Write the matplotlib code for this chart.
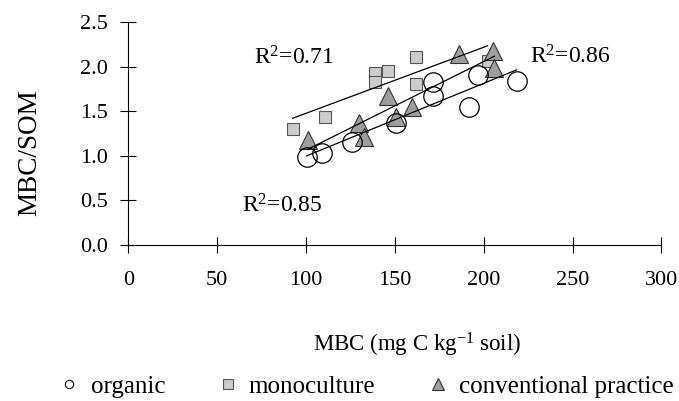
import matplotlib
matplotlib.use('Agg')
import matplotlib.pyplot as plt
from matplotlib.lines import Line2D
import numpy as np

plt.rcParams['font.family'] = ['Liberation Serif', 'DejaVu Serif']
plt.rcParams['mathtext.fontset'] = 'custom'
plt.rcParams['mathtext.rm'] = 'Liberation Serif'
plt.rcParams['mathtext.it'] = 'Liberation Serif:italic'

# values
organic_x = [100.3, 108.8, 125.9, 150.6, 171.6, 171.6, 191.5, 196.6, 218.5]
organic_y = [0.99, 1.03, 1.15, 1.37, 1.83, 1.67, 1.55, 1.91, 1.84]

mono_x = [92.5, 110.7, 139.0, 139.0, 145.9, 161.9, 161.9, 202.2]
mono_y = [1.30, 1.44, 1.93, 1.83, 1.95, 2.11, 1.81, 2.06]

conv_x = [100.9, 130.0, 132.8, 145.9, 150.6, 159.6, 185.9, 205.0, 206.0]
conv_y = [1.175, 1.37, 1.21, 1.67, 1.44, 1.55, 2.14, 2.17, 1.98]

r2_labels = ['0.85', '0.71', '0.86']   # organic, monoculture, conventional

x_ticks = [0, 50, 100, 150, 200, 250, 300]
y_ticks = [0.0, 0.5, 1.0, 1.5, 2.0, 2.5]


def fit_line(ax, xs, ys):
    xs = np.array(xs)
    ys = np.array(ys)
    k, b = np.polyfit(xs, ys, 1)
    xx = np.array([xs.min(), xs.max()])
    ax.plot(xx, k * xx + b, color='black', lw=0.9, zorder=4)


fig = plt.figure(figsize=(6.79, 4.01), dpi=100)
ax = fig.add_axes([0.189, 0.389, 0.785, 0.556])

ax.plot(mono_x, mono_y, 's', ms=8, mfc='#cccccc', mec='#555555', mew=0.8,
        ls='none', zorder=2)
ax.plot(conv_x, conv_y, '^', ms=12.5, mfc='#9e9e9e', mec='#333333', mew=0.8,
        ls='none', zorder=3)
ax.plot(organic_x, organic_y, 'o', ms=14, mfc='none', mec='black', mew=0.9,
        ls='none', zorder=5)

fit_line(ax, organic_x, organic_y)
fit_line(ax, mono_x, mono_y)
fit_line(ax, conv_x, conv_y)

r2 = r'R$^{\mathregular{2}}$='
ax.text(64, 0.37, r2 + r2_labels[0], fontsize=17, ha='left', va='baseline')
ax.text(71, 2.02, r2 + r2_labels[1], fontsize=17, ha='left', va='baseline')
ax.text(226, 2.04, r2 + r2_labels[2], fontsize=17, ha='left', va='baseline')

ax.set_xlim(0, 300)
ax.set_ylim(0, 2.5)
ax.set_xticks(x_ticks)
ax.set_yticks(y_ticks)
ax.set_yticklabels(['%.1f' % v for v in y_ticks])
ax.tick_params(direction='inout', length=11, width=0.8, labelsize=16)
ax.tick_params(axis='x', pad=13)
ax.tick_params(axis='y', pad=9)
ax.spines['top'].set_visible(False)
ax.spines['right'].set_visible(False)

ax.set_xlabel('MBC (mg C kg$^{\\mathregular{-1}}$ soil)', fontsize=16.5)
ax.xaxis.set_label_coords(0.541, -0.385)
ax.set_ylabel('MBC/SOM', fontsize=19.5)
ax.yaxis.set_label_coords(-0.162, 0.413)

# legend with small markers along the bottom
handles = [
    Line2D([], [], marker='o', ls='none', ms=6, mfc='white', mec='black', mew=0.8),
    Line2D([], [], marker='s', ls='none', ms=7, mfc='#cccccc', mec='#555555', mew=0.8),
    Line2D([], [], marker='^', ls='none', ms=8, mfc='#9e9e9e', mec='#333333', mew=0.8),
]
fig.legend(handles, ['organic', 'monoculture', 'conventional practice'],
           loc='center', bbox_to_anchor=(0.54, 0.035), ncol=3, frameon=False,
           fontsize=18, handlelength=0.8, handletextpad=0.45, columnspacing=2.1)

fig.savefig('out.png', dpi=100)
